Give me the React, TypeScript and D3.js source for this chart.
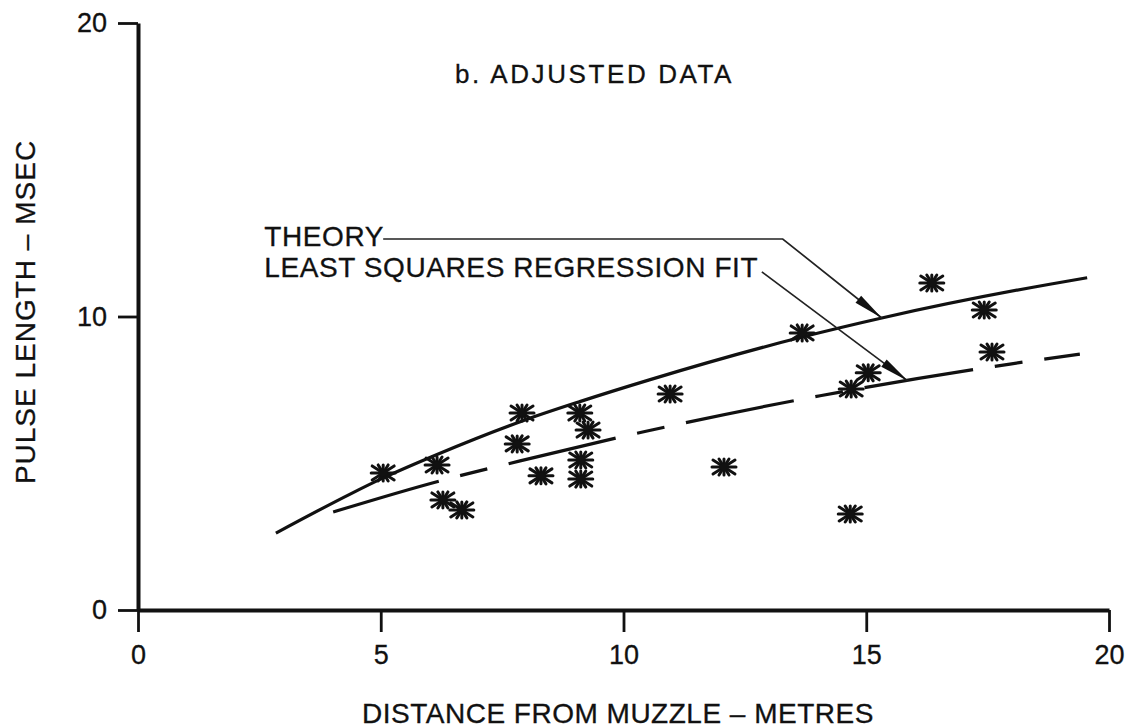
import React, { useEffect, useRef } from 'react';
import * as d3 from 'd3';

// tick values
const xTicks = [0, 5, 10, 15, 20];
const yTicks = [0, 10, 20];

// measured points (distance m, pulse length msec)
const pointX = [5.05, 6.16, 6.28, 6.67, 7.91, 7.81, 8.3, 9.1, 9.27, 9.12, 9.12, 10.96, 12.07, 13.68, 14.69, 15.04, 14.67, 16.35, 17.43, 17.59];
const pointY = [4.67, 4.94, 3.75, 3.41, 6.71, 5.66, 4.57, 6.71, 6.13, 5.11, 4.46, 7.36, 4.87, 9.44, 7.53, 8.08, 3.27, 11.14, 10.22, 8.79];

// theory curve
const theoryX = [2.84, 4.37, 5.05, 6.16, 7.93, 9.1, 10.55, 13.68, 15.32, 18.78, 19.55];
const theoryY = [2.62, 3.95, 4.5, 5.3, 6.45, 7.1, 7.85, 9.3, 9.95, 11.1, 11.32];

// least squares fit
const fitX = [4.02, 6.22, 7.87, 10.44, 14.05, 17.96, 19.4];
const fitY = [3.34, 4.4, 5.08, 6.08, 7.3, 8.38, 8.72];

const FONT = '"Liberation Sans", Arial, Helvetica, sans-serif';
const INK = '#111';

function PulseChart() {
  const ref = useRef<SVGSVGElement>(null);

  useEffect(() => {
    const width = 1130;
    const height = 728;
    const svg = d3.select(ref.current);
    svg.selectAll('*').remove();
    svg.attr('width', width).attr('height', height);

    const x = d3.scaleLinear().domain([0, 20]).range([138, 1109]);
    const y = d3.scaleLinear().domain([0, 20]).range([610, 23]);

    svg.append('rect').attr('width', width).attr('height', height).attr('fill', '#fff');

    // scanned type looks a bit heavier, so give text a thin outline
    const ink = (t: any) => t.attr('fill', INK).attr('stroke', INK).attr('stroke-width', 0.3)
      .style('font-family', FONT);

    // X axis
    const xAxis = svg.append('g')
      .attr('transform', `translate(0,${y(0)})`)
      .call(d3.axisBottom(x).tickValues(xTicks).tickSize(22).tickSizeOuter(0).tickPadding(13).tickFormat(d3.format('d')));
    xAxis.select('.domain').attr('stroke', INK).attr('stroke-width', 4);
    xAxis.selectAll('.tick line').attr('stroke', INK).attr('stroke-width', 2.8);
    ink(xAxis.selectAll('.tick text')).style('font-size', '27px');

    // Y axis
    const yAxis = svg.append('g')
      .attr('transform', `translate(${x(0)},0)`)
      .call(d3.axisLeft(y).tickValues(yTicks).tickSize(20).tickSizeOuter(0).tickPadding(11).tickFormat(d3.format('d')));
    yAxis.select('.domain').attr('stroke', INK).attr('stroke-width', 4);
    yAxis.selectAll('.tick line').attr('stroke', INK).attr('stroke-width', 2.8);
    ink(yAxis.selectAll('.tick text')).style('font-size', '27px');

    // axis titles
    ink(svg.append('text'))
      .attr('x', 618).attr('y', 723)
      .attr('text-anchor', 'middle')
      .style('font-size', '28px').style('letter-spacing', '0.5px')
      .text('DISTANCE FROM MUZZLE – METRES');

    ink(svg.append('text'))
      .attr('transform', 'translate(35,312) rotate(-90)')
      .attr('text-anchor', 'middle')
      .style('font-size', '28px').style('letter-spacing', '1px')
      .text('PULSE LENGTH – MSEC');

    ink(svg.append('text'))
      .attr('x', 455).attr('y', 83)
      .style('font-size', '26px').style('letter-spacing', '2.6px')
      .text('b. ADJUSTED DATA');

    // theory curve
    const line = d3.line<number>()
      .x(i => x(theoryX[i]))
      .y(i => y(theoryY[i]))
      .curve(d3.curveMonotoneX);
    svg.append('path')
      .attr('d', line(d3.range(theoryX.length)))
      .attr('fill', 'none').attr('stroke', INK).attr('stroke-width', 3.2);

    // regression fit (dashed)
    const fitLine = d3.line<number>()
      .x(i => x(fitX[i]))
      .y(i => y(fitY[i]))
      .curve(d3.curveMonotoneX);
    svg.append('path')
      .attr('d', fitLine(d3.range(fitX.length)))
      .attr('fill', 'none').attr('stroke', INK).attr('stroke-width', 3.2)
      .attr('stroke-dasharray', '110 22 28 22');

    // asterisk markers
    const star = svg.append('g').selectAll('g')
      .data(d3.range(pointX.length))
      .enter()
      .append('g')
      .attr('transform', i => `translate(${x(pointX[i])},${y(pointY[i])})`)
      .attr('stroke', INK).attr('stroke-width', 3).attr('stroke-linecap', 'round');
    const arms: [number, number, number, number][] = [
      [-12, 0, 12, 0], [-11, -7, 11, 7], [-11, 7, 11, -7], [0, -8, 0, 8], [-5, -8, 5, 8], [-5, 8, 5, -8]
    ];
    arms.forEach(a => {
      star.append('line').attr('x1', a[0]).attr('y1', a[1]).attr('x2', a[2]).attr('y2', a[3]);
    });
    star.append('ellipse').attr('rx', 5).attr('ry', 3.5).attr('fill', INK).attr('stroke', 'none');

    // annotations: label position, leader knee and arrow tip in data units
    const notes = [
      { text: 'THEORY', tx: 2.6, ty: 12.4, pts: [[5.05, 12.64], [13.28, 12.64], [15.32, 9.95]] },
      { text: 'LEAST SQUARES REGRESSION FIT', tx: 2.6, ty: 11.35, pts: [[12.85, 11.52], [15.86, 7.8]] }
    ];
    notes.forEach(n => {
      ink(svg.append('text'))
        .attr('x', x(n.tx)).attr('y', y(n.ty))
        .style('font-size', '28px').style('letter-spacing', '0.6px')
        .text(n.text);
      const p = n.pts.map(d => [x(d[0]), y(d[1])] as [number, number]);
      svg.append('path')
        .attr('d', d3.line()(p))
        .attr('fill', 'none').attr('stroke', '#222').attr('stroke-width', 1.7);
      const tip = p[p.length - 1];
      const from = p[p.length - 2];
      const dx = tip[0] - from[0];
      const dy = tip[1] - from[1];
      const len = Math.hypot(dx, dy);
      const ux = dx / len, uy = dy / len;
      const L = 30, W = 4.5;
      const bx = tip[0] - ux * L, by = tip[1] - uy * L;
      svg.append('path')
        .attr('d', `M${tip[0]},${tip[1]}L${bx - uy * W},${by + ux * W}L${bx + uy * W},${by - ux * W}Z`)
        .attr('fill', INK);
    });
  }, []);

  return <svg ref={ref} style={{ position: 'absolute', left: 0, top: 0, background: '#fff' }} />;
}

export default function App() {
  return <PulseChart />;
}
